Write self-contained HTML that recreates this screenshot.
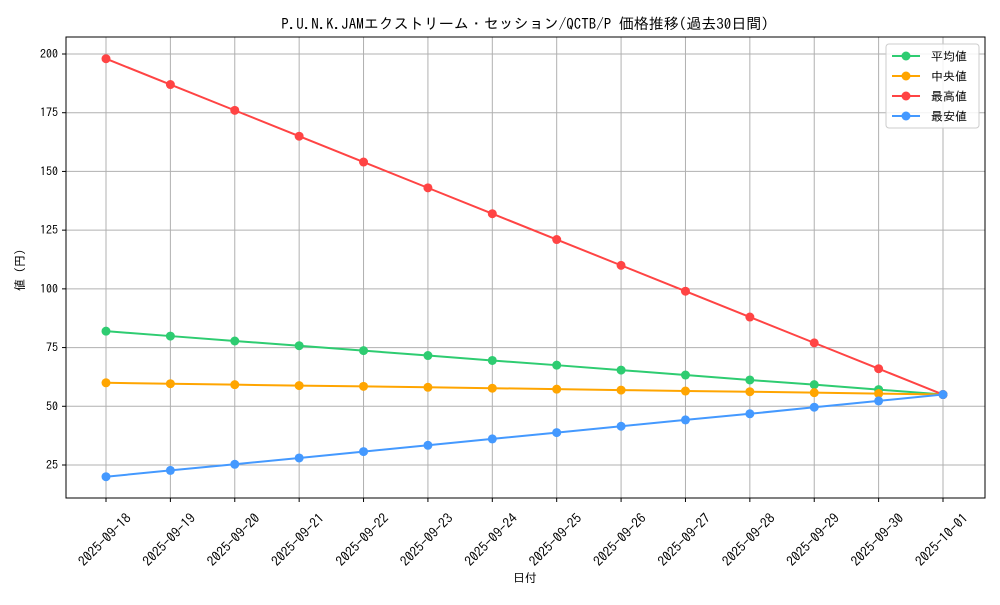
<!DOCTYPE html>
<html><head><meta charset="utf-8"><style>
body{margin:0;background:#fff}
svg text{font-family:"IPAGothic","Liberation Sans","Noto Sans CJK JP",sans-serif;fill:#000}
</style></head><body>
<svg id="chart" width="1000" height="600" xmlns="http://www.w3.org/2000/svg">
<rect width="1000" height="600" fill="#fff"/>
<text x="525" y="29" font-size="15" text-anchor="middle">P.U.N.K.JAMエクストリーム・セッション/QCTB/P 価格推移(過去30日間)</text>
<g id="grid"></g>
<rect x="66" y="37" width="919" height="461" fill="none" stroke="#000" stroke-width="1"/>
<g id="axes"></g>
<g id="series"></g>
<text x="525" y="582" font-size="12" text-anchor="middle">日付</text>
<text transform="translate(24,270) rotate(-90)" font-size="12" text-anchor="middle">値 (円)</text>
<g id="legend"></g>
</svg>
<script>
const categories=["2025-09-18","2025-09-19","2025-09-20","2025-09-21","2025-09-22","2025-09-23","2025-09-24","2025-09-25","2025-09-26","2025-09-27","2025-09-28","2025-09-29","2025-09-30","2025-10-01"];
const avgValues=[82,79.9,77.8,75.8,73.7,71.6,69.5,67.5,65.4,63.3,61.2,59.2,57.1,55];
const medianValues=[60,59.6,59.2,58.8,58.5,58.1,57.7,57.3,56.9,56.5,56.2,55.8,55.4,55];
const maxValues=[198,187,176,165,154,143,132,121,110,99,88,77,66,55];
const minValues=[20,22.7,25.3,28,30.7,33.4,36.1,38.8,41.5,44.2,46.8,49.6,52.3,55];
const yTicks=[25,50,75,100,125,150,175,200];
const seriesNames=["平均値","中央値","最高値","最安値"];
const NS="http://www.w3.org/2000/svg";
function xs(i){return 106+i*(943-106)/(categories.length-1);}
function ys(v){return 465-(v-25)*(465-54)/175;}
function mk(t,a,p){const e=document.createElementNS(NS,t);for(const k in a)e.setAttribute(k,a[k]);p.appendChild(e);return e;}
const grid=document.getElementById('grid'),axes=document.getElementById('axes'),ser=document.getElementById('series'),leg=document.getElementById('legend');
categories.forEach((c,i)=>{
 const x=xs(i);
 const g=mk('line',{x1:x,x2:x,y1:37,y2:498,stroke:'#b0b0b0','stroke-width':1},grid);
 
 
 mk('line',{x1:x,x2:x,y1:498,y2:502,stroke:'#000'},axes);
 const t=mk('text',{x:0,y:0,'font-size':13.5,'text-anchor':'middle',transform:`translate(${x+2},${543}) rotate(-45)`},axes);
 t.textContent=c;
 
 
});
yTicks.forEach(v=>{
 const y=ys(v);
 const g=mk('line',{x1:66,x2:985,y1:y,y2:y,stroke:'#b0b0b0','stroke-width':1},grid);
 
 
 mk('line',{x1:62,x2:66,y1:y,y2:y,stroke:'#000'},axes);
 const t=mk('text',{x:58,y:y+4,'font-size':12,'text-anchor':'end'},axes);
 t.textContent=v;
 
 
});
const allSeries=[avgValues,medianValues,maxValues,minValues];
const colors=["#2ecc71","#ffa500","#ff4444","#4499ff"];
const keys=["avg","median","max","min"];
allSeries.forEach((vals,s)=>{
 const pts=vals.map((v,i)=>xs(i)+','+ys(v)).join(' ');
 const pl=mk('polyline',{points:pts,fill:'none',stroke:colors[s],'stroke-width':2},ser);
 
 
 vals.forEach((v,i)=>{
  const c=mk('circle',{cx:xs(i),cy:ys(v),r:4.5,fill:colors[s]},ser);
  
  
 });
});
const lb=mk('rect',{x:886,y:44,width:93,height:84,rx:3,fill:'#fff','fill-opacity':0.85,stroke:'#ccc'},leg);


seriesNames.forEach((n,s)=>{
 const y=56+s*20;
 const g=mk('g',{},leg);
 
 
 mk('line',{x1:892,x2:920,y1:y,y2:y,stroke:colors[s],'stroke-width':2},g);
 mk('circle',{cx:906,cy:y,r:4.5,fill:colors[s]},g);
 const t=mk('text',{x:931,y:y+4.5,'font-size':12},g);
 t.textContent=(s==1?' ':'')+n;
});
</script>
</body></html>
